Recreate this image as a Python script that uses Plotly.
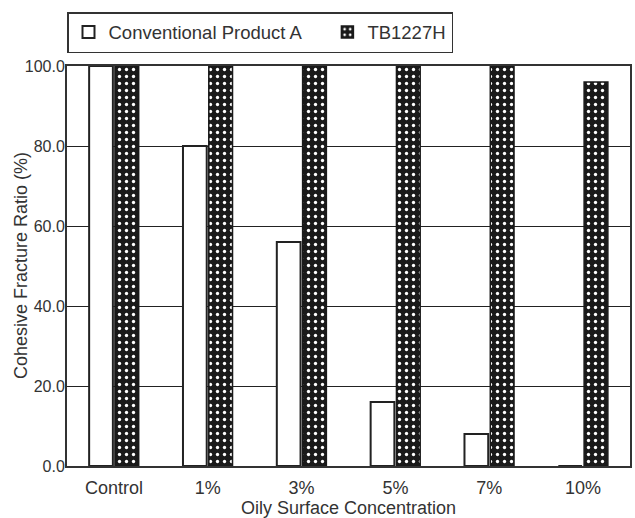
import plotly.graph_objects as go

categories = ["Control", "1%", "3%", "5%", "7%", "10%"]
conventional = [100, 80, 56, 16, 8, 0]
tb1227h = [100, 100, 100, 100, 100, 96]
y_ticks = [0, 20, 40, 60, 80, 100]

FONT = "Liberation Sans, Arial, sans-serif"
TXT = "#333333"

fig = go.Figure()
fig.add_trace(go.Bar(
    x=categories, y=conventional, name="Conventional Product A\u00a0\u00a0\u00a0\u00a0",
    marker=dict(color="white", line=dict(color="#222222", width=2)),
))
fig.add_trace(go.Bar(
    x=categories, y=tb1227h, name="TB1227H",
    marker=dict(color="#1a1a1a", line=dict(color="#1a1a1a", width=1.5),
                pattern=dict(shape=".", fgcolor="white", bgcolor="#1a1a1a",
                             size=7, solidity=0.18, fillmode="replace")),
))

fig.update_layout(
    width=635, height=518,
    margin=dict(l=67, r=5, t=66, b=52),
    paper_bgcolor="white", plot_bgcolor="white",
    barmode="group", bargap=0.45, bargroupgap=0.08,
    font=dict(family=FONT, size=18, color=TXT),
    showlegend=True,
    legend=dict(orientation="h", xref="container", yref="container",
                x=67/635, xanchor="left", y=1-12/518, yanchor="top",
                bordercolor="#333333", borderwidth=1.5, bgcolor="white",
                font=dict(size=18.5, color=TXT)),
    xaxis=dict(showline=True, linecolor="#333333", linewidth=2, mirror=True,
               ticks="", showgrid=False, automargin=False,
               tickfont=dict(size=18), ticklabelstandoff=4),
    yaxis=dict(range=[0, 100], tickvals=y_ticks, tickformat=".1f",
               showline=True, linecolor="#333333", linewidth=2, mirror=True,
               showgrid=True, gridcolor="#222222", gridwidth=1,
               ticks="", automargin=False, tickfont=dict(size=16),
               ticklabelstandoff=-3),
    annotations=[
        dict(text="Oily Surface Concentration", xref="paper", yref="paper",
             x=0.5, y=-42/400, xanchor="center", yanchor="middle",
             showarrow=False, font=dict(size=18, color=TXT)),
        dict(text="Cohesive Fracture Ratio (%)", xref="paper", yref="paper",
             x=-46/563, y=0.5, xanchor="center", yanchor="middle", textangle=-90,
             showarrow=False, font=dict(size=18, color=TXT)),
    ],
)

fig.write_html("out.html", config={"displayModeBar": False},
               post_script="document.body.style.margin='0px';")
